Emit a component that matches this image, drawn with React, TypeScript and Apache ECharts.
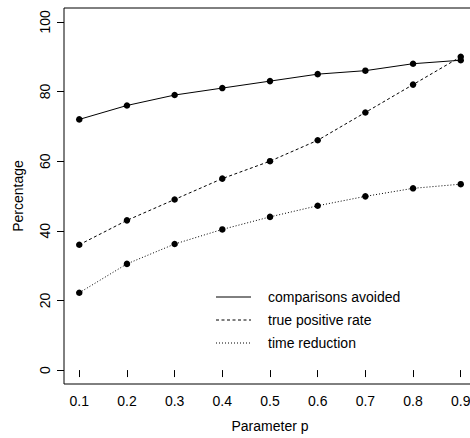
import React, { useEffect, useRef } from "react";
import * as echarts from "echarts";

const pValues = [0.1, 0.2, 0.3, 0.4, 0.5, 0.6, 0.7, 0.8, 0.9];
const comparisonsAvoided = [72, 76, 79, 81, 83, 85, 86, 88, 89];
const truePositiveRate = [36, 43, 49, 55, 60, 66, 74, 82, 90];
const timeReduction = [22.2, 30.5, 36.2, 40.4, 44.0, 47.2, 49.9, 52.2, 53.4];
const yTicks = [0, 20, 40, 60, 80, 100];
const seriesNames = ["comparisons avoided", "true positive rate", "time reduction"];
const xTitle = "Parameter p";
const yTitle = "Percentage";

const FONT = "'Liberation Sans', Arial, Helvetica, sans-serif";
const FS = 14;

export default function App() {
  const ref = useRef<HTMLDivElement>(null);
  useEffect(() => {
    if (!ref.current) return;
    const chart = echarts.init(ref.current, undefined, { renderer: "svg" });
    const allSeries = [comparisonsAvoided, truePositiveRate, timeReduction];
    const lineTypes: any[] = ["solid", [3, 2.5], [1, 2]];
    const series = allSeries.map((vals, i) => ({
      name: seriesNames[i],
      type: "line",
      data: pValues.map((p, j) => [p, vals[j]]),
      symbol: "circle",
      symbolSize: 6.5,
      showSymbol: true,
      itemStyle: { color: "#000" },
      lineStyle: { color: "#000", width: 1, type: lineTypes[i] },
      z: 3,
    }));
    const legendRows = [297, 320, 343];
    const graphic: any[] = [];
    seriesNames.forEach((name, i) => {
      graphic.push({
        type: "line",
        shape: { x1: 216, y1: legendRows[i], x2: 251, y2: legendRows[i] },
        style: { stroke: "#000", lineWidth: 1, lineDash: i === 0 ? null : lineTypes[i] },
      });
      graphic.push({
        type: "text",
        x: 268,
        y: legendRows[i],
        style: { text: name, fill: "#000", font: `${FS}px ${FONT}`, textVerticalAlign: "middle" },
      });
    });
    chart.setOption({
      animation: false,
      backgroundColor: "#fff",
      grid: {
        left: 64,
        top: 8,
        width: 412,
        height: 376,
        show: true,
        borderColor: "#000",
        borderWidth: 1,
        backgroundColor: "transparent",
      },
      xAxis: {
        type: "value",
        min: 0.068,
        max: 0.932,
        name: xTitle,
        nameLocation: "middle",
        nameGap: 35,
        nameTextStyle: { color: "#000", fontSize: FS, fontFamily: FONT },
        axisLine: { show: false },
        splitLine: { show: false },
        axisTick: { show: true, inside: false, length: 7, lineStyle: { color: "#000" }, customValues: pValues },
        axisLabel: {
          color: "#000",
          fontSize: FS,
          fontFamily: FONT,
          margin: 10,
          customValues: pValues,
          formatter: (v: number) => v.toFixed(1),
        },
      },
      yAxis: {
        type: "value",
        min: -4,
        max: 104,
        name: yTitle,
        nameLocation: "middle",
        nameGap: 39,
        nameRotate: 90,
        nameTextStyle: { color: "#000", fontSize: FS, fontFamily: FONT },
        axisLine: { show: false },
        splitLine: { show: false },
        axisTick: { show: true, inside: false, length: 7, lineStyle: { color: "#000" }, customValues: yTicks },
        axisLabel: {
          color: "#000",
          fontSize: FS,
          fontFamily: FONT,
          rotate: 90,
          margin: 12,
          customValues: yTicks,
          formatter: (v: number) => String(Math.round(v)),
        },
      },
      series,
      graphic,
    });
    return () => chart.dispose();
  }, []);
  return (
    <div style={{ position: "fixed", left: 0, top: 0, width: 470, height: 438, overflow: "hidden", background: "#fff" }}>
      <div ref={ref} style={{ width: 490, height: 438 }} />
    </div>
  );
}
